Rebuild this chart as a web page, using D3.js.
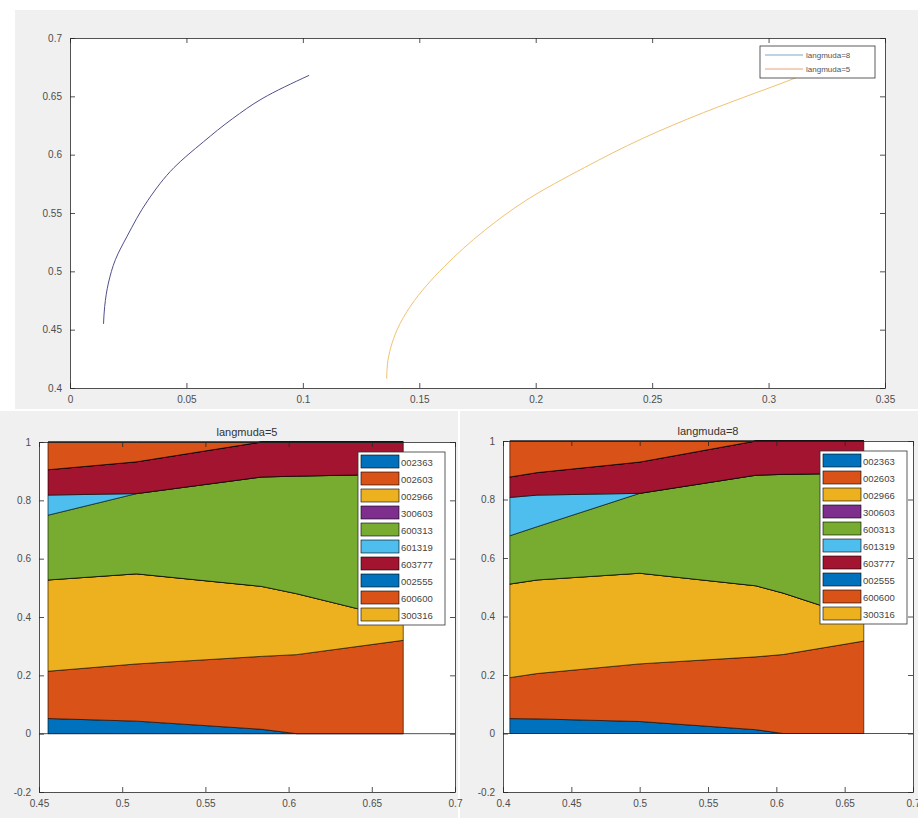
<!doctype html>
<html>
<head>
<style>
  body { margin: 0; background: #fff; }
  text { font-family: "Liberation Sans", Arial, sans-serif; }
  .tick text { fill: #4d4d4d; }
</style>
<script src="https://d3js.org/d3.v7.min.js"></script>
</head>
<body>
<svg width="918" height="818"></svg>
<script>
// top chart: two frontier curves
var lam8Risk = [0.0144, 0.0149, 0.0165, 0.0195, 0.0245, 0.0335, 0.0447, 0.0573, 0.0699, 0.0825, 0.1027];
var lam8Ret  = [0.455, 0.47, 0.49, 0.51, 0.53, 0.561, 0.589, 0.611, 0.631, 0.648, 0.668];
var lam5Risk = [0.136, 0.1363, 0.1378, 0.1405, 0.1465, 0.1607, 0.178, 0.196, 0.221, 0.246, 0.272, 0.2945, 0.308, 0.318];
var lam5Ret  = [0.408, 0.42, 0.435, 0.45, 0.471, 0.504, 0.535, 0.561, 0.589, 0.614, 0.636, 0.653, 0.663, 0.671];
var topXTicks = [0, 0.05, 0.1, 0.15, 0.2, 0.25, 0.3, 0.35];
var topYTicks = [0.4, 0.45, 0.5, 0.55, 0.6, 0.65, 0.7];
var topLegend = ["langmuda=8", "langmuda=5"];

// bottom charts: stacked weights
var stocks = ["002363", "002603", "002966", "300603", "600313", "601319", "603777", "002555", "600600", "300316"];
var colors = ["#0072BD", "#D95319", "#EDB120", "#7E2F8E", "#77AC30", "#4DBEEE", "#A2142F", "#0072BD", "#D95319", "#EDB120"];

var ret5 = [0.4554, 0.5085, 0.5837, 0.6048, 0.6689];
var w5 = [
  [0.052, 0.043, 0.015, 0, 0],
  [0.162, 0.196, 0.250, 0.271, 0.320],
  [0.313, 0.309, 0.240, 0.209, 0.070],
  [0, 0, 0, 0, 0],
  [0.222, 0.275, 0.375, 0.403, 0.500],
  [0.069, 0, 0, 0, 0],
  [0.087, 0.109, 0.120, 0.117, 0.110],
  [0, 0, 0, 0, 0],
  [0.095, 0.068, 0, 0, 0],
  [0, 0, 0, 0, 0]
];

var ret8 = [0.405, 0.425, 0.50, 0.585, 0.605, 0.664];
var w8 = [
  [0.051, 0.050, 0.041, 0.013, 0, 0],
  [0.140, 0.155, 0.197, 0.249, 0.270, 0.316],
  [0.320, 0.320, 0.310, 0.243, 0.210, 0.074],
  [0, 0, 0, 0, 0, 0],
  [0.165, 0.182, 0.273, 0.378, 0.406, 0.500],
  [0.131, 0.108, 0, 0, 0, 0],
  [0.070, 0.077, 0.107, 0.117, 0.114, 0.110],
  [0, 0, 0, 0, 0, 0],
  [0.123, 0.108, 0.072, 0, 0, 0],
  [0, 0, 0, 0, 0, 0]
];
var wYTicks = [-0.2, 0, 0.2, 0.4, 0.6, 0.8, 1];

var svg = d3.select("svg");
var fmt = function(d) { return String(+d.toFixed(2)); };

// figure backgrounds
svg.append("rect").attr("x", 15).attr("y", 10).attr("width", 903).attr("height", 399).attr("fill", "#f0f0f0");
svg.append("rect").attr("x", 0).attr("y", 411).attr("width", 458).attr("height", 407).attr("fill", "#f0f0f0");
svg.append("rect").attr("x", 460).attr("y", 411).attr("width", 458).attr("height", 407).attr("fill", "#f0f0f0");

// draws a matlab style box with inward ticks
function drawAxes(g, x, y, xt, yt) {
  var w = x.range()[1] - x.range()[0];
  var h = y.range()[0] - y.range()[1];
  var tl = 5;
  g.append("g").attr("transform", "translate(0," + h + ")")
    .call(d3.axisBottom(x).tickValues(xt).tickFormat(fmt).tickSizeInner(-tl).tickSizeOuter(0).tickPadding(8));
  g.append("g")
    .call(d3.axisLeft(y).tickValues(yt).tickFormat(fmt).tickSizeInner(-tl).tickSizeOuter(0).tickPadding(8));
  g.append("g")
    .call(d3.axisTop(x).tickValues(xt).tickFormat("").tickSizeInner(-tl).tickSizeOuter(0));
  g.append("g").attr("transform", "translate(" + w + ",0)")
    .call(d3.axisRight(y).tickValues(yt).tickFormat("").tickSizeInner(-tl).tickSizeOuter(0));
  g.selectAll(".domain").attr("stroke", "#262626").attr("stroke-width", 0.8);
  g.selectAll(".tick line").attr("stroke", "#262626").attr("stroke-width", 0.8);
  g.selectAll(".tick text").attr("font-size", 10);
}

// ---------- top chart ----------
var tg = svg.append("g").attr("transform", "translate(70,38)");
tg.append("rect").attr("width", 815).attr("height", 350).attr("fill", "#fff");
var tx = d3.scaleLinear().domain([0, 0.35]).range([0, 815]);
var ty = d3.scaleLinear().domain([0.4, 0.7]).range([350, 0]);

var line = d3.line().x(function(d) { return tx(d[0]); }).y(function(d) { return ty(d[1]); })
  .curve(d3.curveMonotoneY);
tg.append("path").datum(d3.zip(lam8Risk, lam8Ret)).attr("d", line)
  .attr("fill", "none").attr("stroke", "#4f4f8c").attr("stroke-width", 1);
tg.append("path").datum(d3.zip(lam5Risk, lam5Ret)).attr("d", line)
  .attr("fill", "none").attr("stroke", "#f0c274").attr("stroke-width", 1);
drawAxes(tg, tx, ty, topXTicks, topYTicks);

var tl = tg.append("g").attr("transform", "translate(690,8)");
tl.append("rect").attr("width", 115).attr("height", 32).attr("fill", "#fff")
  .attr("stroke", "#333").attr("stroke-width", 0.8);
var topLegColors = ["#7fa6c8", "#eaa07a"];
topLegend.forEach(function(t, i) {
  tl.append("line").attr("x1", 5).attr("x2", 43).attr("y1", 9 + i * 14).attr("y2", 9 + i * 14)
    .attr("stroke", topLegColors[i]).attr("stroke-width", 1);
  tl.append("text").attr("x", 46).attr("y", 12 + i * 14).attr("font-size", 8)
    .attr("fill", "#555").text(t);
});

// ---------- bottom charts ----------
function weightChart(ox, oy, w, h, xDomain, xt, ret, weights, title, legX) {
  var g = svg.append("g").attr("transform", "translate(" + ox + "," + oy + ")");
  g.append("rect").attr("width", w).attr("height", h).attr("fill", "#fff");
  var x = d3.scaleLinear().domain(xDomain).range([0, w]);
  var y = d3.scaleLinear().domain([-0.2, 1]).range([h, 0]);

  var rows = ret.map(function(r, j) {
    var o = { ret: r };
    stocks.forEach(function(s, i) { o[s] = weights[i][j]; });
    return o;
  });
  var series = d3.stack().keys(stocks)(rows);
  var area = d3.area()
    .x(function(d) { return x(d.data.ret); })
    .y0(function(d) { return y(d[0]); })
    .y1(function(d) { return y(d[1]); });

  g.selectAll(".layer").data(series).enter().append("path")
    .attr("class", "layer")
    .attr("d", area)
    .attr("fill", function(d, i) { return colors[i]; })
    .attr("stroke", "#000").attr("stroke-width", 0.6);

  // zero baseline across the axes
  g.append("line").attr("x1", 0).attr("x2", w).attr("y1", y(0)).attr("y2", y(0))
    .attr("stroke", "#262626").attr("stroke-width", 0.8);

  drawAxes(g, x, y, xt, wYTicks);

  g.append("text").attr("x", w / 2).attr("y", -6).attr("text-anchor", "middle")
    .attr("font-size", 11).attr("fill", "#333").text(title);

  // legend
  var lg = g.append("g").attr("transform", "translate(" + legX + ",10)");
  lg.append("rect").attr("width", 87).attr("height", 173).attr("fill", "#fff")
    .attr("stroke", "#333").attr("stroke-width", 0.8);
  stocks.forEach(function(s, i) {
    lg.append("rect").attr("x", 3).attr("y", 3 + i * 17).attr("width", 38).attr("height", 13)
      .attr("fill", colors[i]).attr("stroke", "#000").attr("stroke-width", 0.6);
    lg.append("text").attr("x", 43).attr("y", 13.5 + i * 17).attr("font-size", 9.5)
      .attr("fill", "#444").text(s);
  });
}

weightChart(39, 442, 416, 350, [0.45, 0.7], [0.45, 0.5, 0.55, 0.6, 0.65, 0.7], ret5, w5, "langmuda=5", 319);
weightChart(503, 441, 410, 351, [0.4, 0.7], [0.4, 0.45, 0.5, 0.55, 0.6, 0.65, 0.7], ret8, w8, "langmuda=8", 317);
</script>
</body>
</html>
